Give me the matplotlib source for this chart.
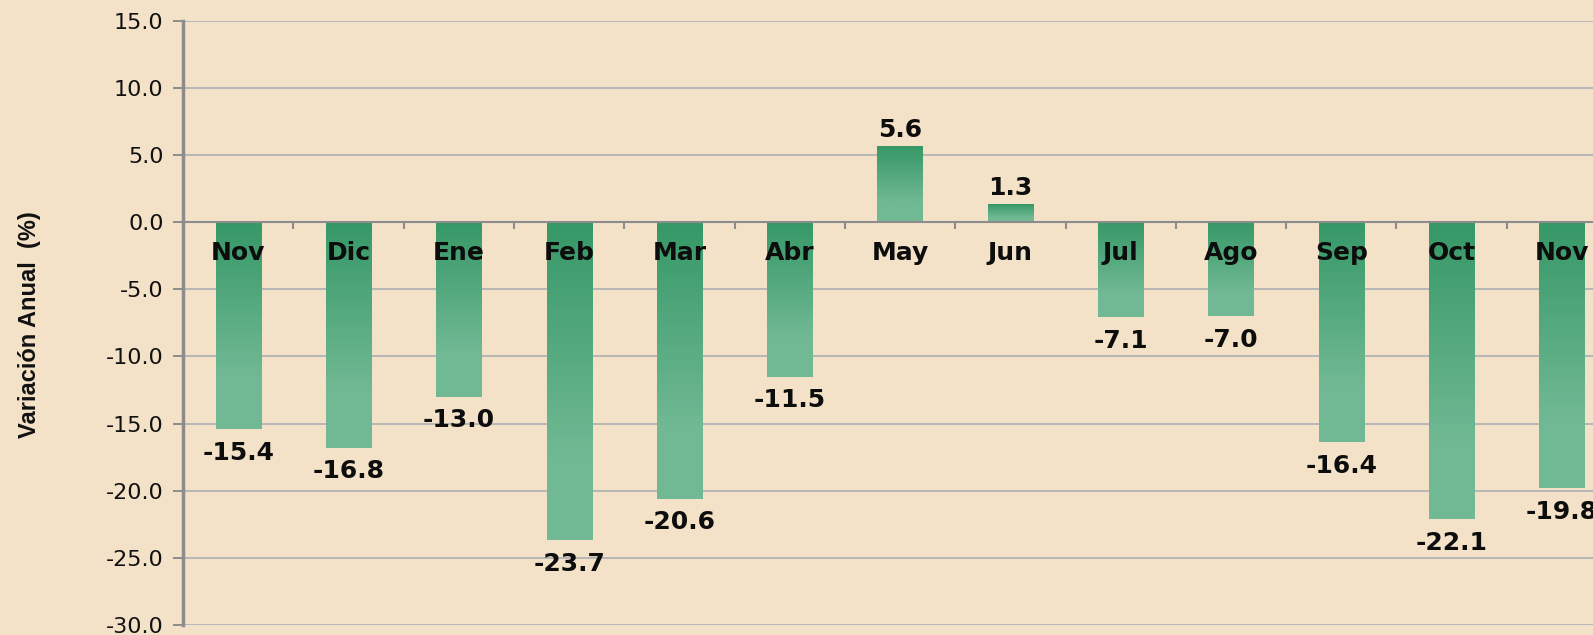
import numpy as np
import matplotlib
matplotlib.use('Agg')
from matplotlib import pyplot as plt
from matplotlib.colors import LinearSegmentedColormap

# datos
meses = ['Nov', 'Dic', 'Ene', 'Feb', 'Mar', 'Abr', 'May', 'Jun', 'Jul', 'Ago', 'Sep', 'Oct', 'Nov']
variacion = [-15.4, -16.8, -13.0, -23.7, -20.6, -11.5, 5.6, 1.3, -7.1, -7.0, -16.4, -22.1, -19.8]
y_ticks = [15.0, 10.0, 5.0, 0.0, -5.0, -10.0, -15.0, -20.0, -25.0, -30.0]

fondo = '#f3e2c8'
verde_osc = '#369867'
verde_cla = '#71b994'
gris_grid = '#b6b6b6'
gris_eje = '#8c8c8c'

fig = plt.figure(figsize=(15.93, 6.35), dpi=100, facecolor=fondo)
ax = fig.add_axes([0.1149, 0.0157, 0.9002, 0.9517])
ax.set_facecolor('none')

x = np.arange(len(meses))
ancho = 0.41
barras = ax.bar(x, variacion, width=ancho, color='none', zorder=2)

# degradado de arriba (oscuro) hacia abajo (claro)
cmap = LinearSegmentedColormap.from_list('verde', [verde_osc, verde_cla])
grad = np.clip(np.linspace(0, 1, 200) / 0.75, 0, 1).reshape(-1, 1)
for b, v in zip(barras, variacion):
    x0 = b.get_x()
    x1 = x0 + b.get_width()
    y_top = max(v, 0)
    y_bot = min(v, 0)
    ax.imshow(grad, extent=(x0, x1, y_bot, y_top), aspect='auto', origin='upper',
              cmap=cmap, vmin=0, vmax=1, zorder=2, interpolation='bilinear')

ax.set_xlim(-0.5, len(meses) - 0.5)
ax.set_ylim(-30, 15)

# rejilla
ax.set_yticks(y_ticks)
ax.set_yticklabels([f'{t:.1f}' for t in y_ticks], fontsize=16, family='DejaVu Sans', color='#111111')
ax.yaxis.grid(True, color=gris_grid, lw=1.4, zorder=0)
ax.set_axisbelow(True)
ax.tick_params(axis='y', length=7, width=1.4, color=gris_eje, pad=7)

# eje x en cero con marcas entre categorias
ax.spines['bottom'].set_position(('data', 0))
ax.spines['bottom'].set_color(gris_eje)
ax.spines['bottom'].set_linewidth(1.5)
ax.spines['bottom'].set_zorder(3)
ax.set_xticks(x[:-1] + 0.5)
ax.set_xticklabels([])
ax.tick_params(axis='x', direction='out', length=5, width=1.5, color=gris_eje)
ax.spines['left'].set_color(gris_eje)
ax.spines['left'].set_linewidth(2.5)
ax.spines['top'].set_visible(False)
ax.spines['right'].set_visible(False)

# nombres de mes
for i, m in enumerate(meses):
    ax.text(i, -2.3, m, ha='center', va='center', fontsize=18, fontweight='bold',
            family='DejaVu Sans', color='#0d0d0d', zorder=5)

# etiquetas de valores
for i, v in enumerate(variacion):
    desp = 12 if v > 0 else -17
    ax.annotate(f'{v:.1f}', (i, v), xytext=(0, desp), textcoords='offset points',
                ha='center', va='center', fontsize=18, fontweight='bold',
                family='DejaVu Sans', color='#0d0d0d', zorder=5, annotation_clip=False)

fig.text(30 / 1593, 0.488, 'Variación Anual  (%)', rotation=90, ha='center', va='center',
         fontsize=17, fontweight='bold', family='Liberation Sans', color='#111111')

plt.savefig('out.png', dpi=100, facecolor=fondo)
